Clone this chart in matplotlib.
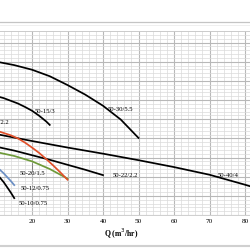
import matplotlib
matplotlib.use("Agg")
import matplotlib.pyplot as plt
from matplotlib.ticker import MultipleLocator
from matplotlib.lines import Line2D

# data (Q in m3/hr, H head)
q_30_55 = [10, 15, 20, 25, 30, 35, 40, 45, 50]
h_30_55 = [40.0, 39.1, 37.9, 36.2, 33.9, 31.4, 28.5, 24.9, 20.1]

q_15_3 = [10, 12, 14, 16, 18, 20, 22, 24, 25]
h_15_3 = [31.0, 30.5, 29.8, 29.1, 28.2, 27.2, 25.9, 24.4, 23.5]

q_18_22 = [10, 12, 14, 16, 18, 20, 22, 24, 26, 28, 30]
h_18_22 = [22.0, 21.4, 20.8, 20.0, 18.9, 17.6, 16.2, 14.6, 12.9, 11.1, 9.2]

q_40_4 = [10, 20, 30, 40, 50, 60, 70, 80, 85]
h_40_4 = [21.1, 19.3, 17.6, 16.0, 14.3, 12.5, 10.5, 7.9, 6.5]

q_22_22 = [10, 15, 20, 25, 30, 35, 40]
h_22_22 = [17.8, 16.8, 15.6, 14.4, 13.1, 11.8, 10.4]

q_20_15 = [10, 15, 20, 25, 30]
h_20_15 = [16.4, 15.4, 14.0, 12.0, 9.5]

q_12_075 = [10, 12, 14, 15]
h_12_075 = [12.6, 10.9, 8.9, 7.8]

q_10_075 = [10, 12, 14, 15]
h_10_075 = [10.8, 8.6, 5.9, 4.4]

xticks = [0, 10, 20, 30, 40, 50, 60, 70, 80, 90]

plt.rcParams['font.family'] = ['Liberation Serif', 'DejaVu Serif']

fig = plt.figure(figsize=(2.5, 2.5), dpi=100)
fig.patch.set_facecolor('white')

# axes extends past the figure on left/right (cropped view)
left_px = 32 - 20 * 3.55
right_px = 32 + 70 * 3.55
ax = fig.add_axes([left_px / 250, 35 / 250, (right_px - left_px) / 250, 184 / 250])
ax.set_xlim(0, 90)
ax.set_ylim(0, 48)

ax.xaxis.set_major_locator(MultipleLocator(10))
ax.xaxis.set_minor_locator(MultipleLocator(2))
ax.yaxis.set_major_locator(MultipleLocator(5))
ax.yaxis.set_minor_locator(MultipleLocator(1))
ax.grid(which='major', color='#b8b8b8', linewidth=0.8)
ax.grid(which='minor', color='#dadada', linewidth=0.5)
ax.set_axisbelow(True)
for s in ax.spines.values():
    s.set_color('#c8c8c8')
    s.set_linewidth(0.6)
ax.tick_params(which='both', length=0)
ax.set_yticklabels([])
ax.set_xticks(xticks)
ax.set_xticklabels([str(v) for v in xticks], fontsize=5.2)
ax.tick_params(axis='x', pad=3)
ax.set_xlabel('Q (m$^3$/hr)', fontsize=5.5, fontweight='bold', labelpad=2)

lw = 1.25
ax.plot(q_40_4, h_40_4, color='black', lw=lw)
ax.plot(q_30_55, h_30_55, color='black', lw=lw)
ax.plot(q_15_3, h_15_3, color='black', lw=lw)
ax.plot(q_22_22, h_22_22, color='black', lw=lw)
ax.plot(q_20_15, h_20_15, color='#6e9a3a', lw=lw)
ax.plot(q_18_22, h_18_22, color='#e0502a', lw=lw)
ax.plot(q_12_075, h_12_075, color='#6b8fc4', lw=lw)
ax.plot(q_10_075, h_10_075, color='black', lw=lw)

fs = 4.8
ax.text(44.8, 27.6, '50-30/5.5', fontsize=fs, ha='center', va='center')
ax.text(23.7, 26.9, '50-15/3', fontsize=fs, ha='center', va='center')
ax.text(13.6, 24.0, '50-18/2.2', fontsize=fs, ha='right', va='center')
ax.text(20.0, 10.7, '50-20/1.5', fontsize=fs, ha='center', va='center')
ax.plot([20.0, 20.0], [11.8, 13.6], color='#555555', lw=0.4)
ax.text(20.8, 6.8, '50-12/0.75', fontsize=fs, ha='center', va='center')
ax.text(20.3, 2.9, '50-10/0.75', fontsize=fs, ha='center', va='center')
ax.text(46.2, 10.4, '50-22/2.2', fontsize=fs, ha='center', va='center')
ax.text(75.2, 10.2, '50-40/4', fontsize=fs, ha='center', va='center')

# outer frame lines of the cropped picture
fig.add_artist(Line2D([0, 1], [1 - 21.5 / 250] * 2, color='#c4c4c4', lw=0.9))
fig.add_artist(Line2D([0, 1], [1 - 24.5 / 250] * 2, color='#ececec', lw=0.6))
fig.add_artist(Line2D([0, 1], [1 - 246 / 250] * 2, color='#d0d0d0', lw=1.5))

fig.savefig('out.png', dpi=100)
